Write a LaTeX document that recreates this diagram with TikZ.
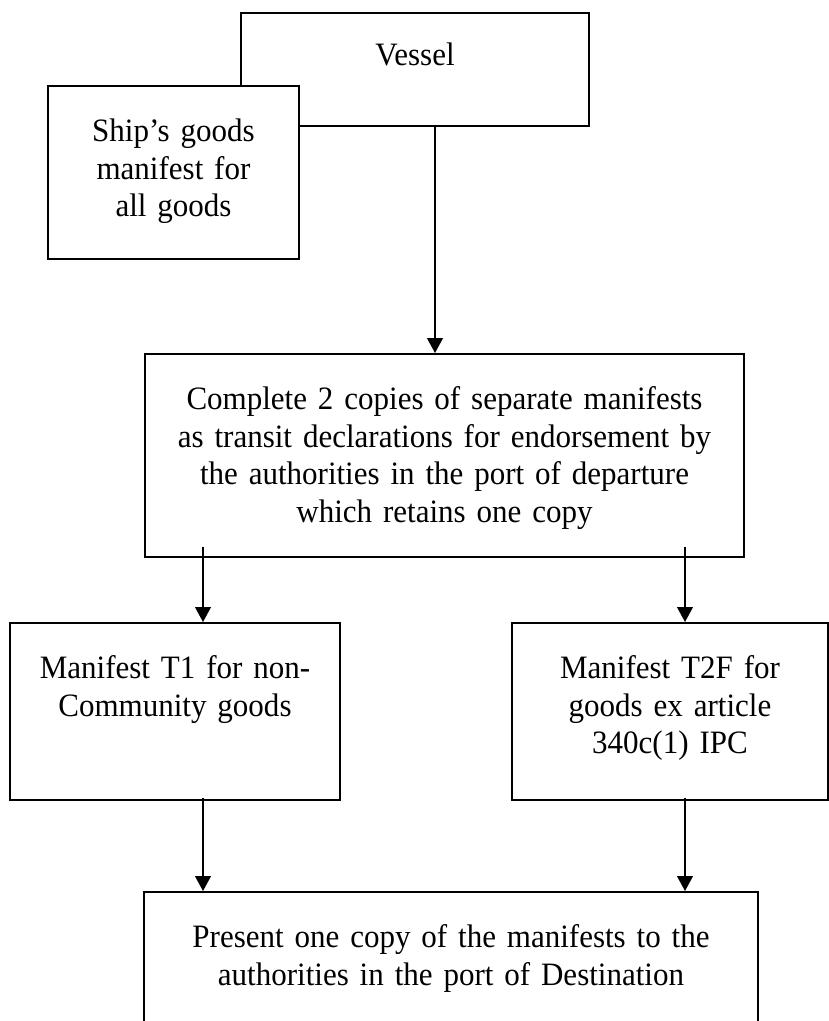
\documentclass[tikz,border=0pt]{standalone}
\usepackage{fontspec}
\setmainfont{Liberation Serif}[FakeStretch=0.95]
\usetikzlibrary{arrows.meta,calc}

\begin{document}
\begin{tikzpicture}[x=0.3676pt, y=-0.3676pt,
  stage/.style 2 args={draw, line width=0.6pt, fill=white, inner sep=0pt,
    align=center, text width=#1, text height=20.5pt, text depth=#2,
    anchor=north, font=\fontsize{12}{13.8}\selectfont},
  flow/.style={-{Triangle[length=5.5pt,width=5.8pt]}, line width=0.65pt}]
\useasboundingbox (0,0) rectangle (829,1021);

\def\ya{12}; % vessel top
\def\yb{85}; % ship manifest top
\def\yc{353}; % declaration top
\def\yd{622}; % T1 / T2F top
\def\ye{891}; % destination top

\node[stage={127.9pt}{22pt}, text height=19.5pt] (vessel) at (415,\ya) {Vessel};
\node[stage={92.3pt}{43.1pt}] (ship) at (173.5,\yb) {Ship's goods\\manifest for\\all goods};

\node[stage={220.2pt}{54.1pt}] (decl) at (444.5,\yc)
  {Complete 2 copies of separate manifests\\as transit declarations for endorsement by\\the authorities in the port of departure\\which retains one copy};

\node[stage={121.3pt}{44.6pt}] (tone) at (175,\yd) {Manifest T1 for non-\\Community goods};
\node[stage={116.2pt}{44.6pt}] (ttwo) at (670,\yd) {Manifest T2F for\\goods ex article\\340c(1) IPC};

\node[stage={225.7pt}{80pt}] (dest) at (451,\ye)
  {Present one copy of the manifests to the\\authorities in the port of Destination};

\coordinate (v) at ($(vessel.south)+(20,0)$);
\coordinate (l) at ($(tone.north)+(28,0)$);
\coordinate (r) at ($(ttwo.north)+(15,0)$);

\draw[flow] (v) -- (v |- decl.north);
\draw[flow] ($(l |- decl.south)+(0,-11)$) -- (l);
\draw[flow] ($(r |- decl.south)+(0,-11)$) -- (r);
\draw[flow] ($(l |- tone.south)+(0,-3)$) -- (l |- dest.north);
\draw[flow] ($(r |- ttwo.south)+(0,-3)$) -- (r |- dest.north);

\end{tikzpicture}
\end{document}
